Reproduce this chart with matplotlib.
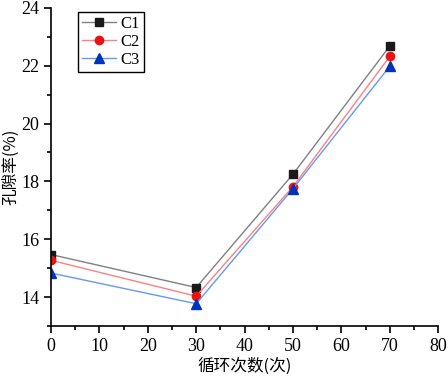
import matplotlib
matplotlib.use('Agg')
import matplotlib.pyplot as plt
from matplotlib.ticker import MultipleLocator

cycles = [0, 30, 50, 70]
c1 = [15.47, 14.33, 18.25, 22.68]
c2 = [15.27, 14.03, 17.82, 22.32]
c3 = [14.83, 13.77, 17.75, 21.98]
labels = ['C1', 'C2', 'C3']

plt.rcParams['font.family'] = ['Liberation Serif', 'Noto Sans CJK SC']
plt.rcParams['font.size'] = 12

fig = plt.figure(figsize=(4.48, 3.76), dpi=100)
ax = fig.add_axes([0.114, 0.133, 0.864, 0.846])

ax.plot(cycles, c1, color='#808080', lw=1, marker='s', ms=5.5, mfc='#1a1a1a', mec='#1a1a1a', label=labels[0])
ax.plot(cycles, c2, color='#ff8080', lw=1, marker='o', ms=6, mfc='#ee1111', mec='#ee1111', label=labels[1])
ax.plot(cycles, c3, color='#6699ee', lw=1, marker='^', ms=6.5, mfc='#0033bb', mec='#0033bb', label=labels[2])

ax.set_xlim(0, 80)
ax.set_ylim(13, 24)
ax.xaxis.set_major_locator(MultipleLocator(10))
ax.xaxis.set_minor_locator(MultipleLocator(5))
ax.yaxis.set_major_locator(MultipleLocator(2))
ax.yaxis.set_minor_locator(MultipleLocator(1))
ax.tick_params(which='major', direction='out', length=5, width=1.2, labelsize=13)
ax.tick_params(which='minor', direction='out', length=3, width=1.2)
for s in ['top', 'right']:
    ax.spines[s].set_visible(False)
for s in ['left', 'bottom']:
    ax.spines[s].set_linewidth(1.2)

ax.set_xlabel('循环次数(次)', fontsize=12, family=['Noto Sans CJK SC'], labelpad=2)
ax.set_ylabel('孔隙率(%)', fontsize=12, family=['Noto Sans CJK SC'], labelpad=1)

leg = ax.legend(loc='upper left', bbox_to_anchor=(0.07, 0.987), borderaxespad=0,
                fancybox=False, edgecolor='black', framealpha=1, fontsize=12,
                handlelength=2.0, borderpad=0.25, labelspacing=0.1, handletextpad=0.3)
leg.get_frame().set_linewidth(1)

fig.savefig('out.png', dpi=100)
